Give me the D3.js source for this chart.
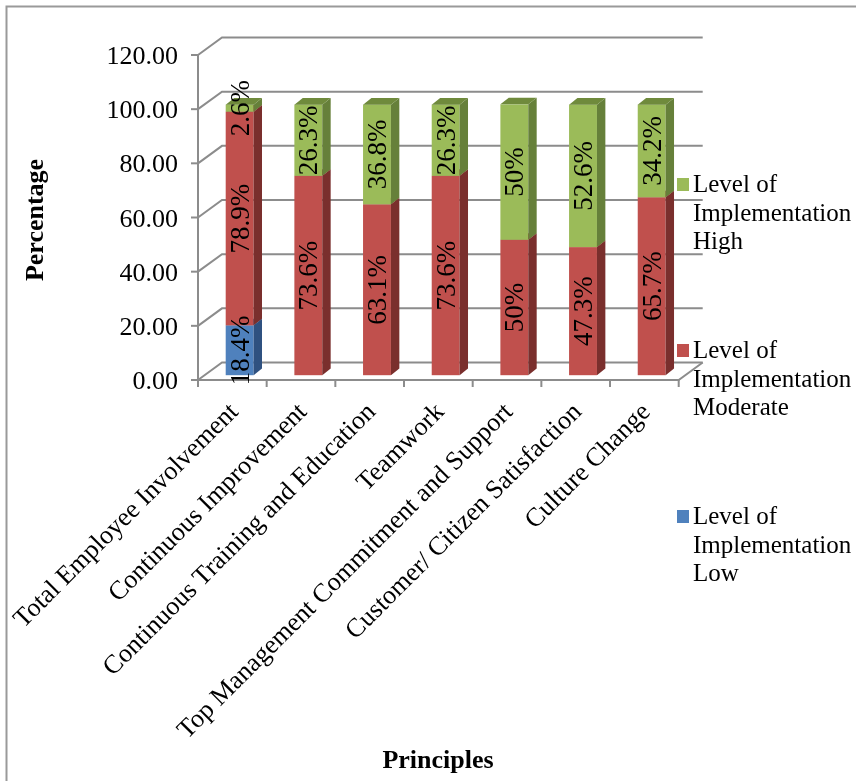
<!DOCTYPE html>
<html><head><meta charset="utf-8">
<script src="https://cdn.jsdelivr.net/npm/d3@7/dist/d3.min.js"></script>
<style>html,body{margin:0;padding:0;background:#fff}svg{display:block;filter:blur(0.4px)}text{font-family:"Liberation Serif","Times New Roman",serif;fill:#000}</style>
</head><body><div id="chart"></div>
<script>
const categories=["Total Employee Involvement","Continuous Improvement","Continuous Training and Education","Teamwork","Top Management Commitment and Support","Customer/ Citizen Satisfaction","Culture Change"];
const lowValues=[18.4,0,0,0,0,0,0];
const moderateValues=[78.9,73.6,63.1,73.6,50,47.3,65.7];
const highValues=[2.6,26.3,36.8,26.3,50,52.6,34.2];
const seriesNames=["Low","Moderate","High"];
const legendOrder=["High","Moderate","Low"];
const yTicks=[0,20,40,60,80,100,120];
const colors={Low:"#4F81BD",Moderate:"#C0504D",High:"#9BBB59"};
const sideColors={Low:"#2F5180",Moderate:"#7A2F2D",High:"#66803A"};
const topColors={Low:"#3D6595",Moderate:"#96403D",High:"#6F8A3C"};
const seriesValues={Low:lowValues,Moderate:moderateValues,High:highValues};

const W=856,H=781,GRID="#8c8c8c";
const svg=d3.select("#chart").append("svg").attr("width",W).attr("height",H);
svg.append("path").attr("d","M6.5,781V6.5H856").attr("fill","none").attr("stroke","#9a9a9a").attr("stroke-width",2);

const y=d3.scaleLinear().domain([0,120]).range([380,55]);
const x=d3.scaleBand().domain(categories).range([198,678.7]);
const wallDx=24,wallDy=-17.5,barDx=8.4,barDy=-6.6,barDrop=-4.8,barLeft=27.7,barW=27.9;

const grid=svg.append("g").attr("fill","none").attr("stroke",GRID).attr("stroke-width",2);
grid.selectAll("path.g").data(yTicks).join("path").attr("class","g")
 .attr("d",v=>`M198,${y(v)}L${198+wallDx},${y(v)+wallDy}H${678.7+wallDx}`);
grid.append("path").attr("d",`M198,${y(120)}V${y(0)}H678.7L${678.7+wallDx},${y(0)+wallDy}`);
grid.selectAll("path.yt").data(yTicks).join("path").attr("class","yt").attr("d",v=>`M191,${y(v)}H198`);
const xEdges=categories.map(c=>x(c)).concat([678.7]);
grid.selectAll("path.xt").data(xEdges).join("path").attr("class","xt").attr("d",e=>`M${e},380V387`);

svg.selectAll("text.yl").data(yTicks).join("text").attr("class","yl")
 .attr("x",178).attr("y",v=>y(v)+9).attr("text-anchor","end").attr("font-size",26)
 .text(v=>d3.format(".2f")(v));

const stack=d3.stack().keys(seriesNames).value((d,k)=>seriesValues[k][d])(d3.range(categories.length));
const bars=svg.append("g");
stack.forEach(s=>{
 const k=s.key;
 s.forEach((seg,i)=>{
  const v=seriesValues[k][i];
  if(!v) return;
  const x0=x(categories[i])+barLeft,x1=x0+barW;
  const yb=y(seg[0])+barDrop,yt=y(seg[1])+barDrop;
  bars.append("rect").attr("x",x0).attr("y",yt).attr("width",barW).attr("height",yb-yt).attr("fill",colors[k]);
  bars.append("path").attr("d",`M${x1},${yb}L${x1+barDx},${yb+barDy}V${yt+barDy}L${x1},${yt}Z`).attr("fill",sideColors[k]);
  bars.append("path").attr("d",`M${x0},${yt}L${x0+barDx},${yt+barDy}H${x1+barDx}L${x1},${yt}Z`).attr("fill",topColors[k]);
 });
});
stack.forEach(s=>{
 const k=s.key;
 s.forEach((seg,i)=>{
  const v=seriesValues[k][i];
  if(!v) return;
  const cx=x(categories[i])+barLeft+barW/2+9,cy=y((seg[0]+seg[1])/2)+barDrop;
  svg.append("text").attr("transform",`translate(${cx},${cy}) rotate(-90)`)
   .attr("text-anchor","middle").attr("font-size",27).text(v+"%");
 });
});

svg.selectAll("text.xl").data(categories).join("text").attr("class","xl")
 .attr("transform",c=>`translate(${x(c)+x.bandwidth()/2+7},${413}) rotate(-45)`)
 .attr("text-anchor","end").attr("font-size",26.2).text(d=>d);

const legendY=d3.scaleBand().domain(legendOrder).range([168,666]);
legendOrder.forEach(k=>{
 const t=legendY(k);
 svg.append("rect").attr("x",677).attr("y",t+10).attr("width",12).attr("height",13).attr("fill",colors[k]);
 ["Level of","Implementation",k].forEach((line,i)=>{
  svg.append("text").attr("x",693).attr("y",t+24+i*28.7).attr("font-size",25).text(line);
 });
});

svg.append("text").attr("transform","translate(43,220) rotate(-90)").attr("text-anchor","middle")
 .attr("font-size",26).attr("font-weight","bold").text("Percentage");
svg.append("text").attr("x",438).attr("y",768).attr("text-anchor","middle")
 .attr("font-size",26).attr("font-weight","bold").text("Principles");
</script></body></html>
